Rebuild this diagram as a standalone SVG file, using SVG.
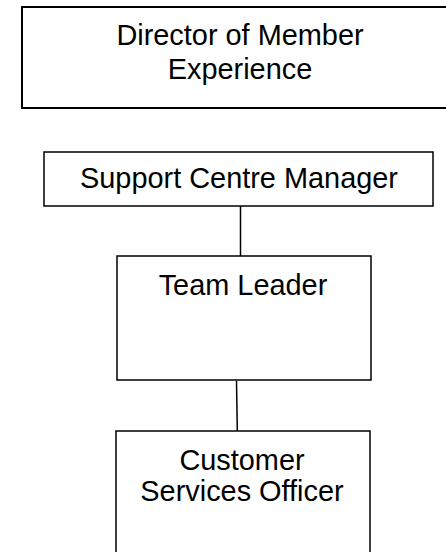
<svg xmlns="http://www.w3.org/2000/svg" width="446" height="552" viewBox="0 0 446 552">
<style>
.box{fill:#fff;stroke:#000;stroke-width:1.5}
.b2{stroke-width:2}
.t{font-family:"Liberation Sans",Arial,sans-serif;font-size:28.9px;fill:#000;text-anchor:middle}
.c{stroke:#000;stroke-width:1.5;fill:none}
</style>
<rect width="446" height="552" fill="#fff"/>
<g id="connectors">
<line class="c" x1="240.5" y1="206" x2="240.5" y2="256"/>
<line class="c" x1="236.5" y1="381" x2="237.3" y2="431"/>
</g>
<g id="director">
<rect class="box b2" x="22" y="7" width="440" height="101"/>
<text class="t" x="240" y="45">Director of Member</text>
<text class="t" x="240" y="79">Experience</text>
</g>
<g id="scm">
<rect class="box" x="44" y="152" width="389" height="54"/>
<text class="t" x="239" y="188">Support Centre Manager</text>
</g>
<g id="tl">
<rect class="box" x="117" y="256" width="254" height="124"/>
<text class="t" x="243" y="295">Team Leader</text>
</g>
<g id="cso">
<rect class="box" x="116" y="431" width="254" height="130"/>
<text class="t" x="242" y="470">Customer</text>
<text class="t" x="242" y="501">Services Officer</text>
</g>
</svg>
